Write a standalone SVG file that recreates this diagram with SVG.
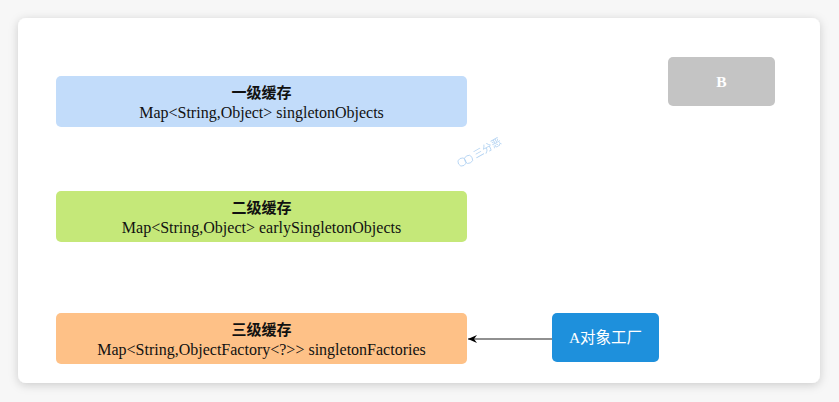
<svg xmlns="http://www.w3.org/2000/svg" width="839" height="402" viewBox="0 0 839 402">
  <defs>
    <filter id="shadow" x="-10%" y="-10%" width="120%" height="130%">
      <feDropShadow dx="0" dy="2" stdDeviation="5" flood-color="#000" flood-opacity="0.18"/>
    </filter>
    <marker id="arrow" markerWidth="10" markerHeight="10" refX="9" refY="5" orient="auto" markerUnits="userSpaceOnUse">
      <path d="M0,1 L9,5 L0,9 L3,5 Z" fill="#000"/>
    </marker>
    <style>
      .box { stroke: none; }
      .title { font-family: "Liberation Serif", "Noto Sans CJK SC", serif; font-size: 15px; font-weight: bold; fill: #111; text-anchor: middle; }
      .sub { font-family: "Liberation Serif", "Noto Sans CJK SC", serif; font-size: 16px; fill: #111; text-anchor: middle; }
      .white { font-family: "Liberation Serif", "Noto Sans CJK SC", serif; font-size: 15.5px; fill: #fff; text-anchor: middle; }
      .wm { font-family: "Noto Sans CJK SC", sans-serif; font-size: 10px; fill: #a9cdf0; }
    </style>
  </defs>
  <rect x="0" y="0" width="839" height="402" fill="#f7f7f7"/>
  <rect x="18" y="18" width="802" height="365" rx="8" fill="#fff" filter="url(#shadow)"/>

  <g id="connectors">
    <line x1="552" y1="339" x2="468" y2="339" stroke="#222" stroke-width="1.2" marker-end="url(#arrow)"/>
  </g>

  <g id="level1">
    <rect class="box" x="56" y="76" width="411" height="51" rx="5" fill="#c2dcfa"/>
    <text class="title" x="261.5" y="98">一级缓存</text>
    <text class="sub" x="261.5" y="118">Map&lt;String,Object&gt; singletonObjects</text>
  </g>

  <g id="level2">
    <rect class="box" x="56" y="191" width="411" height="51" rx="5" fill="#c5e879"/>
    <text class="title" x="261.5" y="213">二级缓存</text>
    <text class="sub" x="261.5" y="233">Map&lt;String,Object&gt; earlySingletonObjects</text>
  </g>

  <g id="level3">
    <rect class="box" x="56" y="313" width="411" height="51" rx="5" fill="#fec187"/>
    <text class="title" x="261.5" y="335">三级缓存</text>
    <text class="sub" x="261.5" y="355">Map&lt;String,ObjectFactory&lt;?&gt;&gt; singletonFactories</text>
  </g>

  <g id="factoryA">
    <rect class="box" x="552" y="313" width="107" height="49" rx="5" fill="#1e90dc"/>
    <text class="white" x="605.5" y="343">A对象工厂</text>
  </g>

  <g id="nodeB">
    <rect class="box" x="668" y="57" width="107" height="49" rx="5" fill="#c4c4c4"/>
    <text class="white" x="721.5" y="87" font-weight="bold">B</text>
  </g>

  <g id="watermark" transform="translate(462,162) rotate(-30)" opacity="0.9">
    <circle cx="0" cy="0" r="4" fill="none" stroke="#a9cdf0" stroke-width="0.8"/>
    <circle cx="7" cy="1" r="4" fill="none" stroke="#a9cdf0" stroke-width="0.8"/>
    <text class="wm" x="14" y="4">三分恶</text>
  </g>
</svg>
